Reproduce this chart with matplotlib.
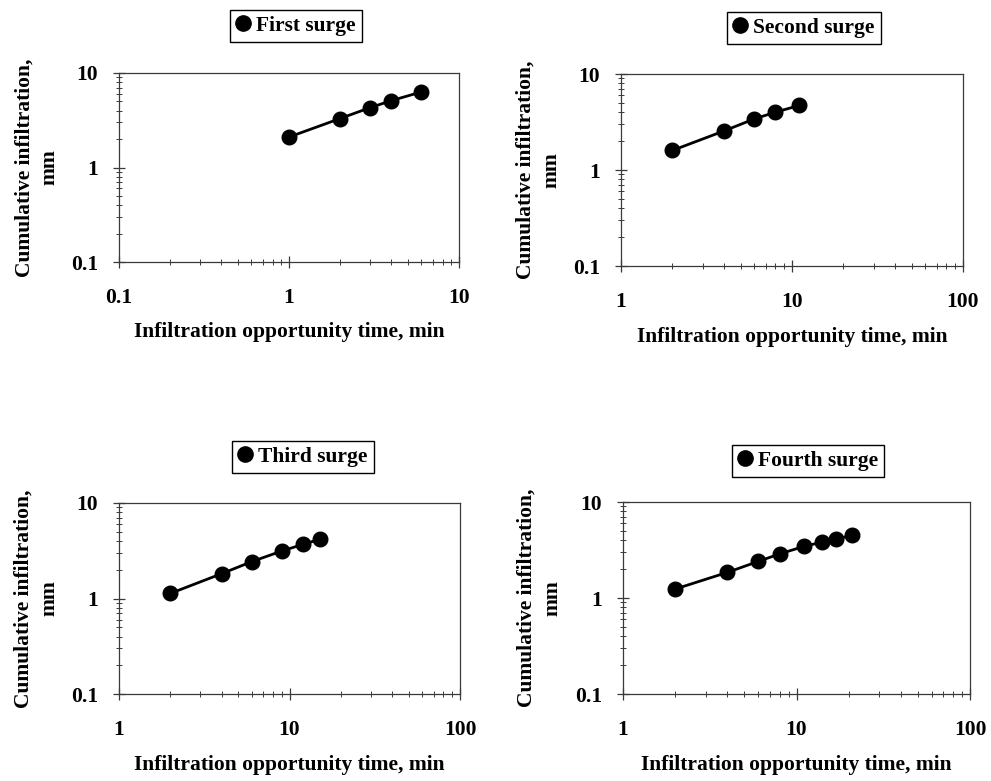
import matplotlib
matplotlib.use("Agg")
import matplotlib.pyplot as plt
from matplotlib.lines import Line2D
from matplotlib.ticker import LogLocator, FixedLocator, FixedFormatter, NullFormatter

# Infiltration opportunity time (min) and cumulative infiltration (mm) per surge
first_time = [1, 2, 3, 4, 6]
first_infil = [2.1, 3.3, 4.3, 5.1, 6.3]

second_time = [2, 4, 6, 8, 11]
second_infil = [1.6, 2.55, 3.4, 4.0, 4.7]

third_time = [2, 4, 6, 9, 12, 15]
third_infil = [1.13, 1.82, 2.43, 3.14, 3.69, 4.16]

fourth_time = [2, 4, 6, 8, 11, 14, 17, 21]
fourth_infil = [1.24, 1.85, 2.4, 2.88, 3.44, 3.82, 4.14, 4.48]

surge_names = ["First surge", "Second surge", "Third surge", "Fourth surge"]

x_ticks_first = [0.1, 1, 10]
x_labels_first = ["0.1", "1", "10"]
x_ticks_other = [1, 10, 100]
x_labels_other = ["1", "10", "100"]
y_ticks = [0.1, 1, 10]
y_labels = ["0.1", "1", "10"]

plt.rcParams["font.family"] = ["Liberation Serif", "DejaVu Serif"]
plt.rcParams["font.weight"] = "bold"

W, H = 991, 781
fig = plt.figure(figsize=(W / 100, H / 100), dpi=100)

# axes boxes in pixel units: left, top, right, bottom
boxes = [
    (119, 73, 459, 262),
    (621, 74, 963, 266),
    (119, 503, 460, 694),
    (623, 502, 970, 694),
]
# legend box centres in pixels
legend_centres = [(296, 26), (804, 28), (303, 457), (808, 461)]

series = [
    (first_time, first_infil, x_ticks_first, x_labels_first),
    (second_time, second_infil, x_ticks_other, x_labels_other),
    (third_time, third_infil, x_ticks_other, x_labels_other),
    (fourth_time, fourth_infil, x_ticks_other, x_labels_other),
]

FS = 15.5
spine_col = "#3a3a3a"

for (l, t, r, b), (xt, yv, xticks, xlabels), name, (lx, ly) in zip(
        boxes, series, surge_names, legend_centres):
    ax = fig.add_axes([l / W, 1 - b / H, (r - l) / W, (b - t) / H])
    ax.plot(xt, yv, color="black", lw=2.0, marker="o", markersize=10.5,
            markerfacecolor="black", markeredgecolor="black")
    ax.set_xscale("log")
    ax.set_yscale("log")
    ax.set_xlim(xticks[0], xticks[-1])
    ax.set_ylim(0.1, 10)

    ax.xaxis.set_major_locator(FixedLocator(xticks))
    ax.xaxis.set_major_formatter(FixedFormatter(xlabels))
    ax.xaxis.set_minor_locator(LogLocator(base=10, subs=range(2, 10)))
    ax.xaxis.set_minor_formatter(NullFormatter())
    ax.yaxis.set_major_locator(FixedLocator(y_ticks))
    ax.yaxis.set_major_formatter(FixedFormatter(y_labels))
    ax.yaxis.set_minor_locator(LogLocator(base=10, subs=range(2, 10)))
    ax.yaxis.set_minor_formatter(NullFormatter())

    ax.tick_params(axis="both", which="major", direction="inout", length=8,
                   width=0.9, color=spine_col, labelsize=FS)
    ax.tick_params(axis="both", which="minor", direction="inout", length=4,
                   width=0.7, color=spine_col)
    ax.tick_params(axis="x", which="major", pad=15)
    ax.tick_params(axis="y", which="major", pad=11)
    for s in ax.spines.values():
        s.set_color(spine_col)
        s.set_linewidth(0.9)

    ax.set_xlabel("Infiltration opportunity time, min", fontsize=FS,
                  fontweight="bold")
    ax.xaxis.set_label_coords(0.5, -0.32)
    ax.set_ylabel("Cumulative infiltration,\nmm", fontsize=FS,
                  fontweight="bold", linespacing=1.35)
    ax.yaxis.set_label_coords(-0.175, 0.5)

    handle = Line2D([], [], color="black", marker="o", linestyle="none",
                    markersize=11)
    ax.legend([handle], [name], loc="center",
              bbox_to_anchor=(lx / W, 1 - ly / H),
              bbox_transform=fig.transFigure, handlelength=0.6,
              handletextpad=0.3, borderpad=0.3, fancybox=False,
              edgecolor="black", framealpha=1,
              prop={"size": FS, "weight": "bold"})

fig.savefig("out.png", dpi=100)
